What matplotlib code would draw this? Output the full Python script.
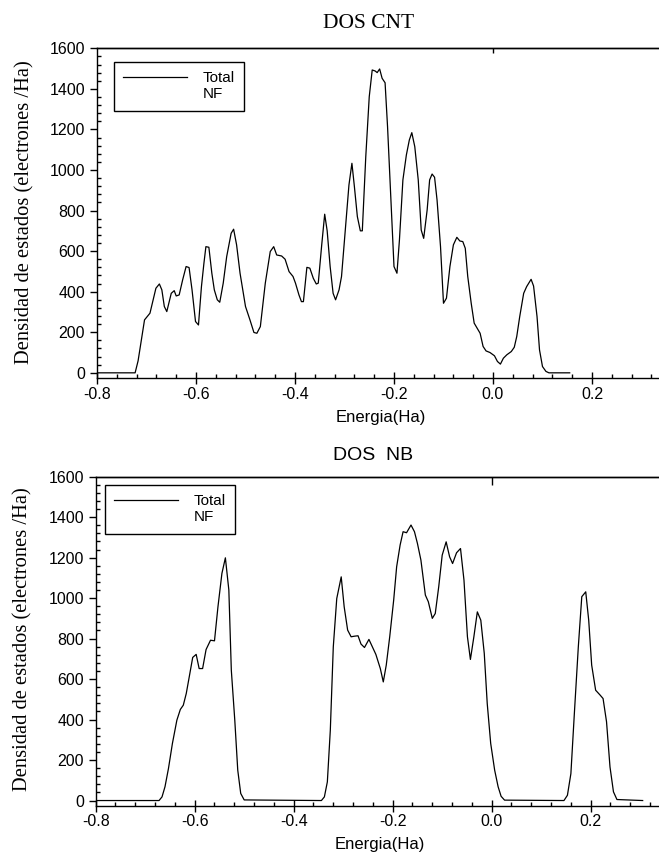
import matplotlib
matplotlib.use('Agg')
from matplotlib import pyplot as plt
from matplotlib.lines import Line2D
from matplotlib.ticker import MultipleLocator, FormatStrFormatter, NullLocator

plt.rcParams['font.family'] = 'Liberation Sans'
plt.rcParams['axes.unicode_minus'] = False


# Density of states, carbon nanotube (Ha, electrons/Ha)
cnt_energy = [-0.80, -0.723, -0.717, -0.704, -0.693, -0.681, -0.674, -0.669, -0.664, -0.659,
              -0.650, -0.644, -0.640, -0.634, -0.627, -0.620, -0.614, -0.608, -0.601, -0.595,
              -0.589, -0.584, -0.580, -0.574, -0.568, -0.563, -0.557, -0.552, -0.545, -0.538,
              -0.529, -0.524, -0.518, -0.511, -0.500, -0.491, -0.483, -0.477, -0.470, -0.460,
              -0.450, -0.443, -0.437, -0.427, -0.420, -0.412, -0.404, -0.399, -0.392, -0.387,
              -0.383, -0.376, -0.370, -0.363, -0.357, -0.353, -0.346, -0.340, -0.335, -0.329,
              -0.323, -0.318, -0.311, -0.306, -0.300, -0.291, -0.285, -0.280, -0.274, -0.268,
              -0.264, -0.257, -0.250, -0.244, -0.238, -0.234, -0.229, -0.224, -0.218, -0.213,
              -0.206, -0.200, -0.194, -0.189, -0.182, -0.175, -0.169, -0.164, -0.158, -0.151,
              -0.145, -0.140, -0.133, -0.128, -0.123, -0.118, -0.113, -0.106, -0.100, -0.094,
              -0.087, -0.080, -0.073, -0.067, -0.061, -0.056, -0.051, -0.044, -0.038, -0.032,
              -0.026, -0.020, -0.014, -0.006, 0.003, 0.009, 0.015, 0.021, 0.028, 0.037,
              0.043, 0.048, 0.054, 0.062, 0.068, 0.077, 0.082, 0.089, 0.094, 0.100,
              0.107, 0.113, 0.155]
cnt_dos = [0, 0, 59, 261, 294, 417, 438, 409, 327, 302,
           392, 405, 379, 384, 458, 524, 519, 409, 253, 236,
           425, 540, 622, 619, 491, 409, 360, 348, 442, 573,
           688, 708, 631, 491, 327, 261, 199, 195, 228, 442,
           598, 622, 581, 576, 560, 499, 475, 442, 384, 351,
           351, 520, 516, 466, 438, 442, 631, 782, 700, 524,
           392, 360, 409, 475, 655, 926, 1033, 918, 770, 700,
           700, 1066, 1361, 1493, 1488, 1480, 1498, 1452, 1430, 1213,
           836, 524, 491, 655, 951, 1074, 1148, 1184, 1115, 951,
           704, 663, 803, 951, 980, 964, 852, 622, 343, 368,
           524, 631, 668, 650, 647, 614, 475, 343, 245, 220,
           195, 130, 108, 100, 84, 56, 43, 72, 89, 105,
           126, 179, 277, 392, 425, 461, 428, 277, 113, 31,
           7, 0, 0]

# Density of states, nanobelt
nb_energy = [-0.80, -0.672, -0.666, -0.660, -0.653, -0.645, -0.636, -0.629, -0.623, -0.617,
             -0.611, -0.604, -0.597, -0.591, -0.584, -0.577, -0.568, -0.560, -0.553, -0.545,
             -0.538, -0.531, -0.526, -0.519, -0.513, -0.507, -0.500, -0.344, -0.338, -0.332,
             -0.326, -0.320, -0.313, -0.304, -0.298, -0.291, -0.284, -0.277, -0.270, -0.264,
             -0.257, -0.248, -0.241, -0.234, -0.225, -0.219, -0.213, -0.206, -0.198, -0.192,
             -0.185, -0.179, -0.172, -0.163, -0.156, -0.150, -0.143, -0.134, -0.128, -0.120,
             -0.114, -0.107, -0.100, -0.092, -0.085, -0.079, -0.071, -0.063, -0.056, -0.049,
             -0.043, -0.036, -0.029, -0.022, -0.015, -0.009, -0.002, 0.006, 0.013, 0.019,
             0.026, 0.146, 0.153, 0.160, 0.167, 0.175, 0.182, 0.190, 0.196, 0.202,
             0.210, 0.219, 0.225, 0.232, 0.239, 0.246, 0.253, 0.305]
nb_dos = [0, 0, 18, 68, 158, 282, 397, 450, 471, 529,
          611, 707, 722, 652, 652, 746, 792, 789, 957, 1122,
          1199, 1040, 644, 397, 150, 35, 3, 0, 18, 92,
          348, 759, 998, 1105, 957, 842, 809, 812, 814, 773,
          756, 796, 759, 722, 652, 586, 669, 809, 990, 1155,
          1262, 1328, 1323, 1361, 1328, 1270, 1188, 1015, 982, 900,
          924, 1056, 1212, 1278, 1204, 1171, 1224, 1245, 1089, 809,
          697, 809, 932, 891, 727, 479, 282, 150, 68, 21,
          2, 0, 26, 133, 430, 759, 1007, 1031, 891, 669,
          545, 521, 504, 389, 166, 43, 5, 0]

legend_labels = ['Total', 'NF']
ylabel = 'Densidad de estados (electrones /Ha)'
xlabel = 'Energia(Ha)'


def dos_panel(ax, energy, dos, xmax, top_len, legend_xy, ylabel_y):
    ax.plot(energy, dos, color='black', lw=0.9)
    ax.set_xlim(-0.8, xmax)
    ax.set_ylim(-27, 1600)
    ax.spines['right'].set_visible(False)
    for s in ax.spines.values():
        s.set_linewidth(1.0)

    ax.xaxis.set_major_locator(MultipleLocator(0.2))
    ax.xaxis.set_minor_locator(MultipleLocator(0.04))
    ax.xaxis.set_major_formatter(FormatStrFormatter('%.1f'))
    ax.yaxis.set_major_locator(MultipleLocator(200))
    ax.yaxis.set_minor_locator(MultipleLocator(40))
    ax.tick_params(axis='x', which='major', direction='inout', length=8, width=1,
                   pad=2, labelsize=11.5, top=False)
    ax.tick_params(axis='x', which='minor', direction='in', length=3, width=1, top=False)
    ax.tick_params(axis='y', which='major', direction='out', length=5, width=1,
                   pad=3.5, labelsize=11.5, right=False)
    ax.tick_params(axis='y', which='minor', direction='in', length=3, width=1, right=False)

    # Fermi level mark on the top edge
    sec = ax.secondary_xaxis('top')
    sec.set_xticks([0.0])
    sec.xaxis.set_minor_locator(NullLocator())
    sec.tick_params(direction='in', length=top_len, width=1, labeltop=False)
    sec.spines['top'].set_linewidth(1.0)

    ax.set_ylabel(ylabel, family='Liberation Serif', fontsize=14.8)
    ax.yaxis.set_label_coords(-0.112, ylabel_y)
    ax.set_xlabel(xlabel, fontsize=12)
    ax.xaxis.set_label_coords(0.505, -0.095)

    handles = [Line2D([], [], color='black', lw=0.9), Line2D([], [], linestyle='none')]
    leg = ax.legend(handles, legend_labels, loc='upper left', bbox_to_anchor=legend_xy,
                    borderaxespad=0, fancybox=False, edgecolor='black', framealpha=1,
                    fontsize=11, handlelength=4.2, handletextpad=1.0,
                    labelspacing=0.15, borderpad=0.6)
    leg.get_frame().set_linewidth(1.0)


fig = plt.figure(figsize=(6.59, 8.59), dpi=100)

ax1 = fig.add_axes([0.1472, 0.5596, 0.8528, 0.3842])
dos_panel(ax1, cnt_energy, cnt_dos, 0.3354, 3.6, (0.030, 0.9585), 0.504)

ax2 = fig.add_axes([0.1452, 0.0617, 0.8548, 0.3834])
dos_panel(ax2, nb_energy, nb_dos, 0.338, 5.8, (0.0165, 0.9748), 0.507)

fig.text(369 / 659, 1 - 24 / 859, 'DOS CNT', family='Liberation Serif', fontsize=15.5,
         ha='center', va='center')
fig.text(373 / 659, 1 - 455 / 859, 'DOS  NB', fontsize=14, ha='center', va='center')

fig.savefig('out.png', dpi=100)
